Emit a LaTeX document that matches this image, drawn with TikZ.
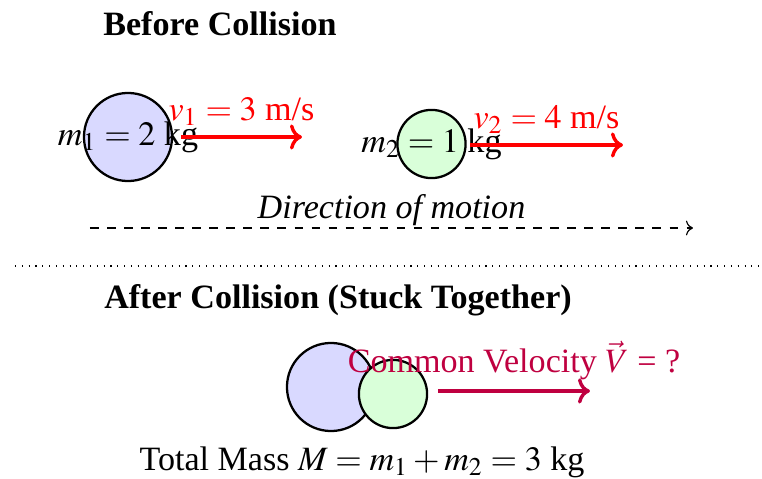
\documentclass[tikz,border=0pt]{standalone}
\usepackage{mathptmx}
\usepackage{fontspec}
\setmainfont{Liberation Serif}
\usetikzlibrary{arrows.meta, positioning}

\begin{document}
\begin{tikzpicture}[
  x=0.352pt, y=-0.352pt,
  font=\large,
  heading/.style={font=\large\bfseries},
  ballA/.style={circle, draw=black, thick, fill=blue!15, minimum size=31pt, inner sep=0pt},
  ballB/.style={circle, draw=black, thick, fill=green!15, minimum size=24pt, inner sep=0pt},
  vel/.style={->, very thick, draw=red},
  velcommon/.style={->, very thick, draw=purple},
  guide/.style={->, thin, dashed}
]
\useasboundingbox (0,0) rectangle (762,479);

% before
\node[heading] (titleBefore) at (220,24) {Before Collision};

\node[ballA] (massA) at (128,137) {};
\node (labelA) at (massA) {$m_1 = 2$ kg};
\coordinate (startA) at (181,137);
\coordinate (endA) at (302,137);
\draw[vel] (startA) -- node[above, text=red] {$v_1 = 3$ m/s} (endA);

\node[ballB] (massB) at (431.5,144) {};
\node (labelB) at (massB) {$m_2 = 1$ kg};
\coordinate (startB) at (470,145);
\coordinate (endB) at (623,145);
\draw[vel] (startB) -- node[above, text=red] {$v_2 = 4$ m/s} (endB);

\coordinate (dirStart) at (90,228);
\coordinate (dirEnd) at (693,228);
\draw[guide] (dirStart) -- node[above, inner sep=0.5pt, font=\large\itshape] {Direction of motion} (dirEnd);

% separator
\coordinate (sepL) at (15,266);
\coordinate (sepR) at (760,266);
\draw[dotted] (sepL) -- (sepR);

% after
\node[heading] (titleAfter) at (338,300) {After Collision (Stuck Together)};

\node[ballA] (lumpA) at (331,387) {};
\node[ballB] (lumpB) at (393,394) {};
\coordinate (startC) at (438,391);
\coordinate (endC) at (590,391);
\draw[velcommon] (startC) -- node[above, text=purple] {Common Velocity $\vec{V}$ = ?} (endC);

\node (total) at (362,462) {Total Mass $M = m_1 + m_2 = 3$ kg};

\end{tikzpicture}
\end{document}
